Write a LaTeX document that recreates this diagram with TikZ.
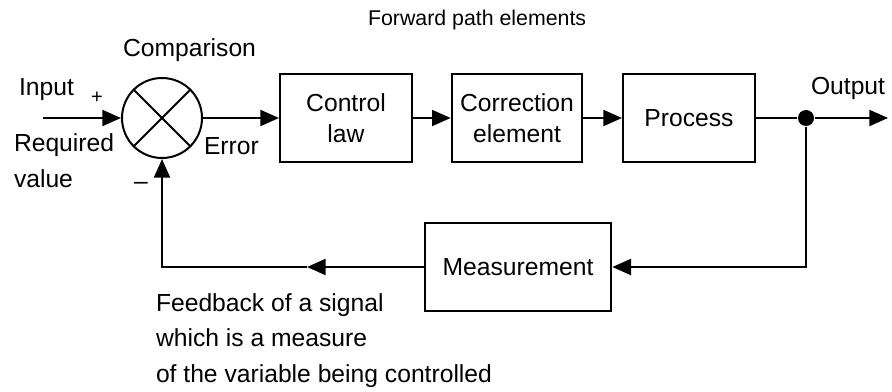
\documentclass[tikz,border=0pt]{standalone}
\usepackage{fontspec}
\setmainfont{Liberation Sans}
\usetikzlibrary{arrows.meta}
\begin{document}
\begin{tikzpicture}[x=0.75pt,y=-0.75pt,line width=1.5pt,
            >={Triangle[length=14pt,width=12pt]}]
            \tikzset{
            cl block/.style={rectangle,draw,minimum width=99pt,minimum height=66pt,inner sep=0,align=center,font=\fontsize{18.5}{23.5}\selectfont},
            cl label/.style={anchor=base west,inner sep=0,align=left,font=\fontsize{18.5}{26.5}\selectfont},
            cl edge/.style={->}
            }
            \useasboundingbox (0,0) rectangle (892,392);
            \node[circle,draw,minimum size=60pt,inner sep=0] (cmp) at (162,118) {};
            \node[cl block] (law) at (346,118) {Control\\law};
            \node[cl block,minimum width=98pt] (corr) at (517,118) {Correction\\element};
            \node[cl block] (proc) at (689,118) {Process};
            \node[cl block,minimum width=140pt] (meas) at (518,267) {Measurement};
            \node[circle,fill,minimum size=12pt,inner sep=0] (tap) at (806,118) {};
            \coordinate (in) at (43,118);
            \coordinate (out) at (888,118);
            \coordinate (fbM) at (307,267);
            \coordinate (fbL) at (162,267);

            \draw (cmp.north west) -- (cmp.south east)
                  (cmp.north east) -- (cmp.south west);

            \path[draw]
            (in) edge[cl edge] (cmp)
            (cmp) edge[cl edge] (law)
            (law) edge[cl edge] (corr)
            (corr) edge[cl edge] (proc)
            (proc) edge (tap)
            (tap) edge[cl edge] (out)
            (meas) edge[cl edge] (fbM)
            ;
            \draw[->] (tap) |- (meas);
            \draw[->] (fbM) -- (fbL) -- (cmp);

            \node[cl label,font=\fontsize{16}{20}\selectfont] (fwd) at (367,26) {Forward path elements};
            \node[cl label] (cmpt) at (122,57) {Comparison};
            \node[cl label] (inp) at (18,96) {Input};
            \node[cl label,font=\fontsize{15}{18}\selectfont] (plus) at (90,104) {+};
            \node[cl label] (req) at (13,187) {Required\\value};
            \node[cl label] (err) at (203,155) {Error};
            \node[cl label] (minus) at (133,190) {\textendash};
            \node[cl label] (outt) at (810,95) {Output};
            \node[cl label] (fbt) at (155,382) {Feedback of a signal\\which is a measure\\of the variable being controlled};
        \end{tikzpicture}
\end{document}
